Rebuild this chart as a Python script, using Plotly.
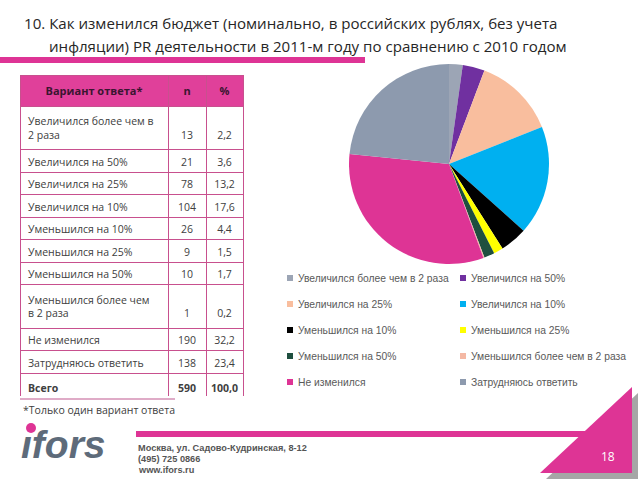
import plotly.graph_objects as go

# ---------------- data ----------------
title_lines = [
    "10. Как изменился бюджет (номинально, в российских рублях, без учета",
    "инфляции) PR деятельности в 2011-м году по сравнению с 2010 годом",
]
categories = [
    "Увеличился более чем в 2 раза",
    "Увеличился на 50%",
    "Увеличился на 25%",
    "Увеличился на 10%",
    "Уменьшился на 10%",
    "Уменьшился на 25%",
    "Уменьшился на 50%",
    "Уменьшился более чем в 2 раза",
    "Не изменился",
    "Затрудняюсь ответить",
]
table_labels = [
    "Увеличился более чем в<br>2 раза",
    "Увеличился на 50%",
    "Увеличился на 25%",
    "Увеличился на 10%",
    "Уменьшился на 10%",
    "Уменьшился на 25%",
    "Уменьшился на 50%",
    "Уменьшился более чем<br>в 2 раза",
    "Не изменился",
    "Затрудняюсь ответить",
]
n_values = [13, 21, 78, 104, 26, 9, 10, 1, 190, 138]
pct_values = ["2,2", "3,6", "13,2", "17,6", "4,4", "1,5", "1,7", "0,2", "32,2", "23,4"]
total_label = "Всего"
total_n = 590
total_pct = "100,0"
header_labels = ["Вариант ответа*", "n", "%"]
footnote = "*Только один вариант ответа"
address_lines = ["Москва, ул. Садово-Кудринская, 8-12", "(495) 725 0866", "www.ifors.ru"]
page_number = "18"

slice_colors = ["#9CA5B5", "#7030A0", "#F9BE9E", "#00B0F0", "#000000",
                "#FFFF00", "#1F4F3F", "#F4B8A4", "#DE3495", "#8D9AAE"]

MAGENTA = "#DE3495"
W, H = 640, 480


def px(x):
    return x / W


def py(y):
    return 1 - y / H


fig = go.Figure()

# ---------------- pie ----------------
fig.add_trace(go.Pie(
    labels=categories,
    values=n_values,
    sort=False,
    direction="clockwise",
    rotation=0,
    textinfo="none",
    hoverinfo="label+value+percent",
    marker=dict(colors=slice_colors, line=dict(width=0)),
    domain=dict(x=[px(349), px(549)], y=[py(264), py(64)]),
    showlegend=False,
))

# ---------------- table ----------------
def lift(label, value):
    # values in two-line rows sit on the second line
    return ("\u00a0<br>" + value) if "<br>" in label else value

col_labels = table_labels + [f"<b>{total_label}</b>"]
col_n = [lift(l, str(v)) for l, v in zip(table_labels, n_values)] + [f"<b>{total_n}</b>"]
col_p = [lift(l, v) for l, v in zip(table_labels, pct_values)] + [f"<b>{total_pct}</b>"]

fig.add_trace(go.Table(
    domain=dict(x=[px(20), px(243)], y=[py(396), py(75)]),
    columnwidth=[148, 38, 37],
    header=dict(
        values=[f"<b>{h}</b>" for h in header_labels],
        fill_color="#E0409A",
        line=dict(color="#C8508E", width=1),
        align=["center", "center", "center"],
        font=dict(family="Open Sans", size=11, color="#3A1530"),
        height=24,
    ),
    cells=dict(
        values=[col_labels, col_n, col_p],
        fill_color="white",
        line=dict(color="#C8508E", width=1),
        align=["left", "center", "center"],
        font=dict(family="Open Sans", size=10.5, color="#404040"),
        height=22.5,
    ),
))

shapes = []
annotations = []

# title
for k, (tx, ty) in enumerate([(22, 23), (47, 46)]):
    annotations.append(dict(x=px(tx), y=py(ty), xref="paper", yref="paper",
                            text=title_lines[k], showarrow=False, xanchor="left",
                            yanchor="middle",
                            font=dict(family="Open Sans", size=15.1, color="#262626")))
# title underline bar
shapes.append(dict(type="rect", xref="paper", yref="paper",
                   x0=px(0), x1=px(365), y0=py(63), y1=py(57),
                   fillcolor=MAGENTA, line=dict(width=0)))

# legend (two columns, five rows) built from the category list
row_y = [278, 304, 330, 356, 382]
col_x = [290, 463]
for i, (cat, col) in enumerate(zip(categories, slice_colors)):
    r, c = divmod(i, 2)
    xm, ym = col_x[c], row_y[r]
    shapes.append(dict(type="rect", xref="paper", yref="paper",
                       x0=px(xm - 3), x1=px(xm + 3), y0=py(ym + 3), y1=py(ym - 3),
                       fillcolor=col, line=dict(width=0)))
    annotations.append(dict(x=px(xm + 6), y=py(ym), xref="paper", yref="paper",
                            text=cat, showarrow=False, xanchor="left", yanchor="middle",
                            font=dict(family="Liberation Sans", size=10.3, color="#595959")))

# footnote
shapes.append(dict(type="line", xref="paper", yref="paper",
                   x0=px(20), x1=px(175), y0=py(399), y1=py(399),
                   line=dict(color="#D58FB5", width=1.5)))
annotations.append(dict(x=px(21), y=py(410), xref="paper", yref="paper",
                        text=footnote, showarrow=False, xanchor="left", yanchor="middle",
                        font=dict(family="Open Sans", size=10.5, color="#404040")))

# footer bar
shapes.append(dict(type="rect", xref="paper", yref="paper",
                   x0=px(136), x1=px(600), y0=py(437), y1=py(431),
                   fillcolor=MAGENTA, line=dict(width=0)))


# triangle shadow and triangle
def tri_path(dx, dy):
    pts = [(540 + dx, 473 + dy), (632 + dx, 387 + dy), (632 + dx, 473 + dy)]
    return "M " + " L ".join(f"{px(x)},{py(y)}" for x, y in pts) + " Z"


shapes.append(dict(type="path", xref="paper", yref="paper", path=tri_path(6, 6),
                   fillcolor="#A6A6A6", line=dict(width=0)))
shapes.append(dict(type="path", xref="paper", yref="paper", path=tri_path(0, 0),
                   fillcolor=MAGENTA, line=dict(width=0)))
annotations.append(dict(x=px(608), y=py(456), xref="paper", yref="paper",
                        text=page_number, showarrow=False, xanchor="center",
                        yanchor="middle",
                        font=dict(family="Open Sans", size=12, color="white")))

# address
for k, line in enumerate(address_lines):
    annotations.append(dict(x=px(136), y=py(448 + 11 * k), xref="paper", yref="paper",
                            text=f"<b>{line}</b>", showarrow=False, xanchor="left",
                            yanchor="middle",
                            font=dict(family="Liberation Sans", size=9.2, color="#555555")))

# logo
annotations.append(dict(x=px(19), y=py(444), xref="paper", yref="paper",
                        text="<b><i>ıfors</i></b>", showarrow=False, xanchor="left",
                        yanchor="middle",
                        font=dict(family="Liberation Sans", size=39, color="#5E6B7A")))
shapes.append(dict(type="circle", xref="paper", yref="paper",
                   x0=px(26), x1=px(36), y0=py(433), y1=py(423),
                   fillcolor=MAGENTA, line=dict(width=0)))

fig.update_layout(
    width=W, height=H,
    margin=dict(l=0, r=0, t=0, b=0),
    paper_bgcolor="white",
    plot_bgcolor="white",
    shapes=shapes,
    annotations=annotations,
    showlegend=False,
)

fig.write_html("out.html")
